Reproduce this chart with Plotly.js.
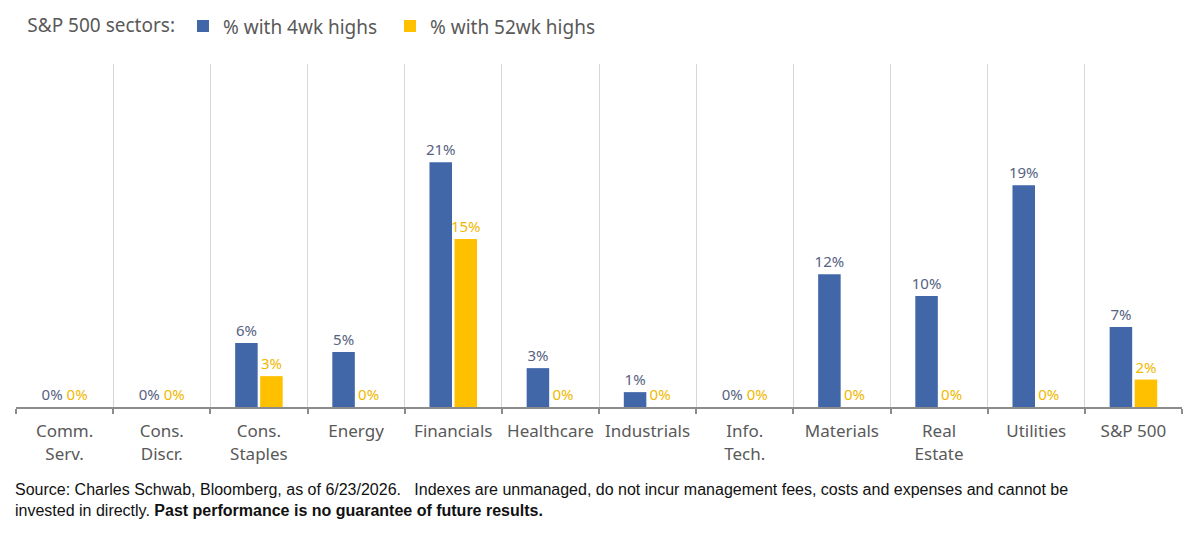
<!DOCTYPE html>
<html>
<head>
<meta charset="utf-8">
<script src="https://cdn.plot.ly/plotly-3.0.1.min.js"></script>
<style>
  html, body { margin: 0; padding: 0; background: #ffffff; }
  #chart { width: 1200px; height: 538px; }
</style>
</head>
<body>
<div id="chart"></div>
<script>
// S&P 500 sectors: share of members at new highs
const sectors = [
  'Comm.<br>Serv.', 'Cons.<br>Discr.', 'Cons.<br>Staples', 'Energy', 'Financials',
  'Healthcare', 'Industrials', 'Info.<br>Tech.', 'Materials', 'Real<br>Estate',
  'Utilities', 'S&P 500'
];
const highs4wk  = [0, 0, 5.6, 4.8, 21.4, 3.4, 1.3, 0, 11.6, 9.7, 19.4, 7.0];
const highs52wk = [0, 0, 2.7, 0, 14.7, 0, 0, 0, 0, 0, 0, 2.4];

const seriesNames = ['% with 4wk highs', '% with 52wk highs'];
const legendLabel = 'S&P 500 sectors:';
const sourceNote = 'Source: Charles Schwab, Bloomberg, as of 6/23/2026.&nbsp;&nbsp; Indexes are unmanaged, do not incur management fees, costs and expenses and cannot be<br>invested in directly. <b>Past performance is no guarantee of future results.</b>';

const BLUE = '#4167A8';
const GOLD = '#FFC000';
const FONT = 'Noto Sans, Roboto, Arial, sans-serif';

function barTrace(name, values, color, textColor) {
  return {
    type: 'bar',
    name: name,
    x: sectors,
    y: values,
    marker: { color: color },
    texttemplate: '%{y:.0f}%',
    textposition: 'outside',
    constraintext: 'none',
    cliponaxis: false,
    textfont: { family: FONT, size: 15, color: textColor },
    hoverinfo: 'x+y'
  };
}

const data = [
  barTrace(seriesNames[0], highs4wk, BLUE, '#56627F'),
  barTrace(seriesNames[1], highs52wk, GOLD, '#F0B800')
];

const layout = {
  width: 1200,
  height: 538,
  paper_bgcolor: '#ffffff',
  plot_bgcolor: '#ffffff',
  margin: { l: 16, r: 18, t: 64, b: 131, autoexpand: false },
  barmode: 'group',
  bargap: 0.485,
  bargroupgap: 0.1,
  font: { family: FONT, color: '#595959' },
  showlegend: true,
  legend: {
    orientation: 'h',
    x: 0.008,
    xanchor: 'left',
    y: 1.11,
    yanchor: 'middle',
    entrywidth: 162,
    font: { family: FONT, size: 19, color: '#595959' },
    title: { text: legendLabel, side: 'left', font: { family: FONT, size: 19, color: '#595959' } },
    bgcolor: 'rgba(0,0,0,0)'
  },
  xaxis: {
    type: 'category',
    tickson: 'boundaries',
    ticks: 'outside',
    ticklen: 5,
    tickwidth: 2,
    tickcolor: '#8C8C8C',
    ticklabelstandoff: 8,
    showline: true,
    linecolor: '#8C8C8C',
    linewidth: 2,
    showgrid: true,
    gridcolor: '#D6D6D6',
    gridwidth: 1,
    tickfont: { family: FONT, size: 17, color: '#595959' },
    fixedrange: true
  },
  yaxis: {
    range: [0, 30],
    visible: false,
    showgrid: false,
    zeroline: false,
    fixedrange: true
  },
  annotations: [{
    xref: 'paper', yref: 'paper',
    x: -0.003, y: 0, yshift: -72,
    xanchor: 'left', yanchor: 'top',
    align: 'left',
    showarrow: false,
    text: sourceNote,
    font: { family: 'Liberation Sans, Arial, sans-serif', size: 16, color: '#111111' }
  }]
};

Plotly.newPlot('chart', data, layout, { displayModeBar: false, staticPlot: true });
</script>
</body>
</html>
